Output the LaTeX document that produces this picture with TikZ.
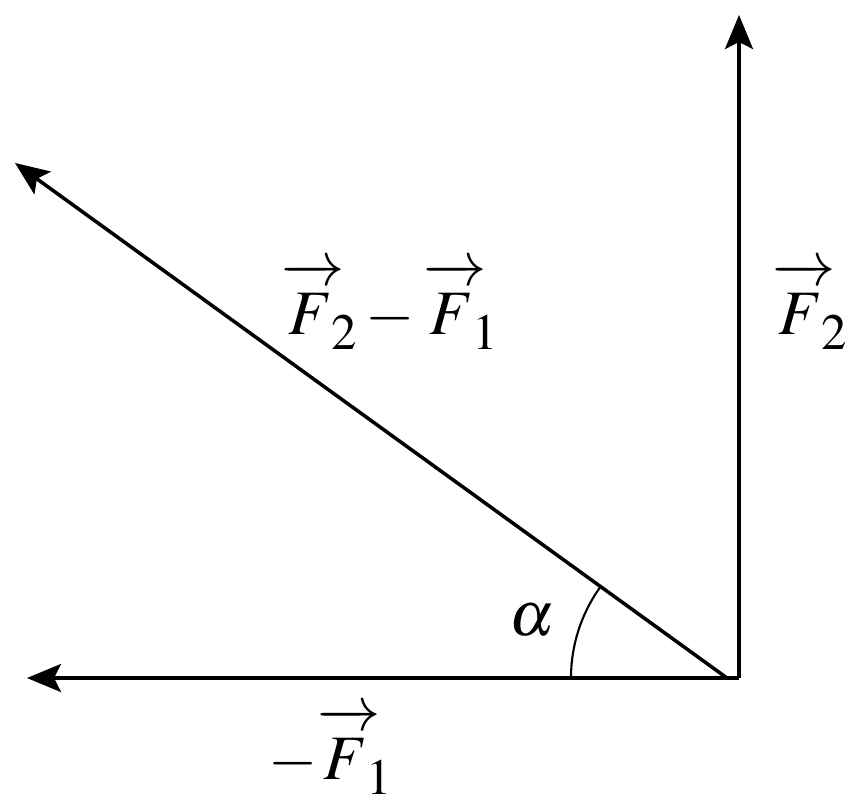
\documentclass[tikz,border=0pt]{standalone}
\usepackage{mathptmx}
\usetikzlibrary{arrows.meta}
\newcommand{\vecF}[1]{\overrightarrow{\rule{0pt}{0.84em}F\mkern2mu}\mkern-4mu\lower0.24em\hbox{\fontsize{14.5}{16}\selectfont$\mathrm{#1}$}}

\begin{document}
\begin{tikzpicture}[
        vec/.style={line width=1pt, -{Stealth[length=0.34cm, width=0.28cm, inset=0.07cm]}},
        every node/.style={font=\fontsize{18}{22}\selectfont}
    ]
        \useasboundingbox (0,0) rectangle (8.54,8.07);

        % Các điểm chính
        \coordinate (O) at (7.39,1.29);
        \coordinate (D) at (7.27,1.29);
        \coordinate (F2end) at (7.39,7.92);
        \coordinate (F1end) at (0.27,1.29);
        \coordinate (Dend) at (0.15,6.44);

        % Vẽ các vectơ
        \draw[vec] (O) -- (F2end);
        \draw[vec] (O) -- (F1end);
        \draw[vec] (D) -- (Dend);

        % Góc alpha
        \draw[line width=0.6pt] (D) ++(-1.56,0) arc[start angle=180, end angle=144.1, radius=1.56];

        % Nhãn
        \node (lF2) at (8.10,5.01) {$\vecF{2}$};
        \node (lDiff) at (3.90,5.01) {$\vecF{2} - \vecF{1}$};
        \node (lF1) at (3.30,0.56) {$-\vecF{1}$};
        \node (la) at (5.32,1.87) {$\alpha$};
    \end{tikzpicture}
\end{document}
